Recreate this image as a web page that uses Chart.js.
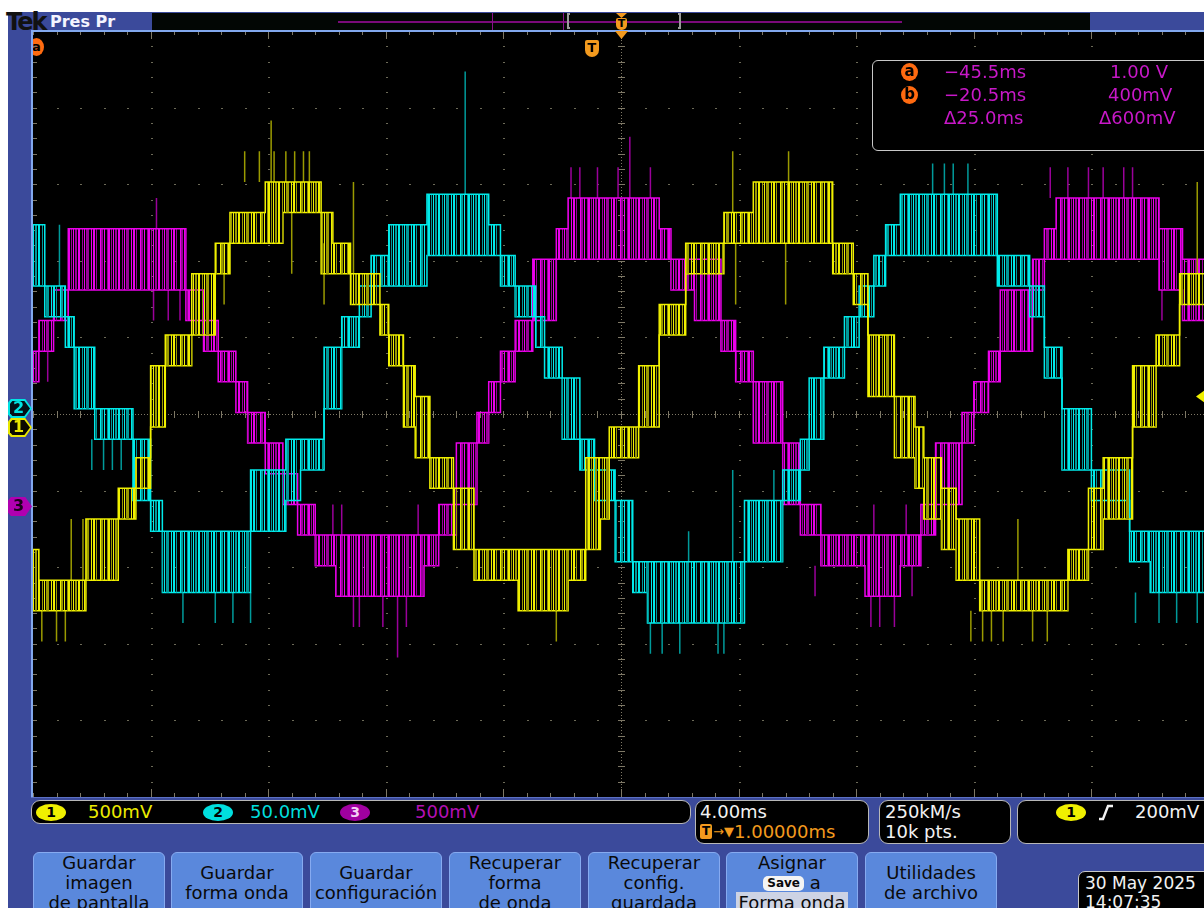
<!DOCTYPE html>
<html>
<head>
<meta charset="utf-8">
<script src="https://cdn.jsdelivr.net/npm/chart.js@4.4.1/dist/chart.umd.min.js"></script>
<style>
html, body { margin: 0; padding: 0; background: #fff; overflow: hidden; width: 1204px; height: 908px; }
body { position: relative; font-family: "DejaVu Sans", "Liberation Sans", sans-serif; }
.abs { position: absolute; }
.box { position: absolute; background: #000; border: 1px solid #b8b8b8; border-radius: 9px; box-sizing: border-box; }
.txt { position: absolute; white-space: nowrap; font-size: 18px; line-height: 20px; }
.oval { position: absolute; border-radius: 50%; font-weight: bold; font-size: 14px; line-height: 17px; text-align: center; color: #000; }
.btn { position: absolute; top: 852px; width: 132px; height: 70px; background: #5a88dc; border: 1px solid #86aaf0; border-radius: 6px; box-sizing: border-box; text-align: center; font-size: 18px; line-height: 20px; color: #0a0a0a; }
.mark { position: absolute; clip-path: polygon(0 18%, 12% 0, 72% 0, 100% 50%, 72% 100%, 12% 100%, 0 82%); }
.orng { position: absolute; background: #ff6a10; border-radius: 50%; color: #000; font-weight: bold; text-align: center; }
</style>
</head>
<body>
<div class="abs" style="left:8px;top:12px;width:1196px;height:896px;background:#3b4a9b"></div>

<!-- top status bar -->
<div class="abs" style="left:152px;top:13px;width:938px;height:17px;background:#020604"></div>
<div class="abs" style="left:338px;top:21px;width:564px;height:2px;background:#7a0a7a"></div>
<div class="abs" style="left:492px;top:13px;width:1px;height:17px;background:#8a108a"></div>
<div class="abs" style="left:563px;top:13px;width:1px;height:17px;background:#8a108a"></div>
<div class="abs" style="left:567px;top:13px;width:3px;height:16px;border:2px solid #9a9a9a;border-right:none;box-sizing:border-box"></div>
<div class="abs" style="left:678px;top:13px;width:3px;height:16px;border:2px solid #9a9a9a;border-left:none;box-sizing:border-box"></div>
<div class="abs" style="left:616px;top:13px;width:11px;height:5px;background:#f39a1e;clip-path:polygon(0 0,100% 0,50% 100%)"></div>
<div class="abs" style="left:616px;top:18px;width:11px;height:12px;background:#f39a1e;border-radius:2px 2px 5px 5px;font:bold 11px 'DejaVu Sans';line-height:12px;text-align:center;color:#000">T</div>
<div class="txt" style="left:6px;top:11px;font-size:24px;line-height:22px;font-weight:bold;color:#111;letter-spacing:-2px">Tek</div>
<div class="txt" style="left:50px;top:12px;font-size:16px;line-height:19px;color:#f4f4ff;font-weight:bold">Pres Pr</div>

<!-- plot -->
<div class="abs" style="left:33px;top:31px;width:1171px;height:766px;background:#000"></div>
<div class="orng" style="left:29px;top:38px;width:15px;height:18px;font-size:13px;line-height:18px">a</div>
<canvas id="scope" class="abs" style="left:33px;top:31px" width="1176" height="766"></canvas>
<div class="abs" style="left:8px;top:31px;width:23px;height:766px;background:#3b4a9b"></div>
<div class="abs" style="left:31px;top:30px;width:1173px;height:2px;background:#82a8ee"></div>
<div class="abs" style="left:31px;top:30px;width:2px;height:768px;background:#82a8ee"></div>
<div class="abs" style="left:31px;top:797px;width:1173px;height:1px;background:#5b70c4"></div>
<div class="abs" style="left:615px;top:31px;width:13px;height:8px;background:#f39a1e;clip-path:polygon(0 0,100% 0,50% 100%)"></div>
<div class="abs" style="left:585px;top:40px;width:14px;height:17px;background:#f39a1e;border-radius:2px 2px 7px 7px;font:bold 13px 'DejaVu Sans';line-height:16px;text-align:center;color:#000">T</div>
<div class="abs" style="left:1196px;top:390px;width:9px;height:13px;background:#f0f000;clip-path:polygon(0 50%,100% 0,100% 100%)"></div>

<!-- channel markers -->
<div class="mark" style="left:8px;top:399px;width:24px;height:19px;background:#00e4e4"></div>
<div class="mark" style="left:10px;top:401px;width:20px;height:15px;background:#041018"></div>
<div class="txt" style="left:13px;top:398px;font-size:16px;font-weight:bold;color:#00e4e4">2</div>
<div class="mark" style="left:8px;top:418px;width:24px;height:19px;background:#e8e800"></div>
<div class="mark" style="left:10px;top:420px;width:20px;height:15px;background:#0a0a00"></div>
<div class="txt" style="left:13px;top:417px;font-size:16px;font-weight:bold;color:#e8e800">1</div>
<div class="mark" style="left:8px;top:497px;width:24px;height:19px;background:#b000b0"></div>
<div class="txt" style="left:13px;top:496px;font-size:16px;font-weight:bold;color:#1a001a">3</div>

<!-- cursor readout -->
<div class="box" style="left:872px;top:60px;width:345px;height:91px;border-radius:6px;border-color:#c8c8c8"></div>
<div class="orng" style="left:901px;top:63px;width:17px;height:18px;font-size:15px;line-height:17px">a</div>
<div class="orng" style="left:901px;top:86px;width:17px;height:18px;font-size:15px;line-height:17px">b</div>
<div class="txt" style="left:944px;top:62px;color:#c818c8">&minus;45.5ms</div>
<div class="txt" style="left:944px;top:85px;color:#c818c8">&minus;20.5ms</div>
<div class="txt" style="left:944px;top:108px;color:#c818c8">&Delta;25.0ms</div>
<div class="txt" style="left:1110px;top:62px;color:#c818c8">1.00 V</div>
<div class="txt" style="left:1108px;top:85px;color:#c818c8">400mV</div>
<div class="txt" style="left:1099px;top:108px;color:#c818c8">&Delta;600mV</div>

<!-- channel scale readouts -->
<div class="box" style="left:31px;top:800px;width:660px;height:24px"></div>
<div class="oval" style="left:36px;top:804px;width:30px;height:17px;background:#f0f000">1</div>
<div class="txt" style="left:88px;top:802px;color:#ecec00">500mV</div>
<div class="oval" style="left:203px;top:804px;width:30px;height:17px;background:#00dede">2</div>
<div class="txt" style="left:250px;top:802px;color:#00dede">50.0mV</div>
<div class="oval" style="left:340px;top:804px;width:30px;height:17px;background:#a000a0;color:#f4d0f4">3</div>
<div class="txt" style="left:415px;top:802px;color:#b410b4">500mV</div>

<div class="box" style="left:695px;top:800px;width:174px;height:44px"></div>
<div class="txt" style="left:700px;top:802px;color:#f2f2f2">4.00ms</div>
<div class="abs" style="left:700px;top:824px;width:12px;height:15px;background:#f39a1e;border-radius:2px;font:bold 12px 'DejaVu Sans';line-height:15px;text-align:center;color:#000">T</div>
<div class="txt" style="left:713px;top:822px;font-size:13px;color:#f39a1e">&rarr;&#9660;</div>
<div class="txt" style="left:734px;top:822px;color:#f39a1e">1.00000ms</div>

<div class="box" style="left:879px;top:800px;width:132px;height:44px"></div>
<div class="txt" style="left:885px;top:802px;color:#f2f2f2">250kM/s</div>
<div class="txt" style="left:885px;top:822px;color:#f2f2f2">10k pts.</div>

<div class="box" style="left:1017px;top:800px;width:200px;height:44px"></div>
<div class="oval" style="left:1056px;top:804px;width:30px;height:17px;background:#f0f000">1</div>
<svg class="abs" style="left:1098px;top:804px" width="16" height="17"><path d="M1 15 H5 L10 2 H15" stroke="#f2f2f2" stroke-width="2.4" fill="none"/></svg>
<div class="txt" style="left:1135px;top:802px;color:#f2f2f2">200mV</div>

<!-- soft buttons -->
<div class="btn" style="left:33px">Guardar<br>imagen<br>de pantalla</div>
<div class="btn" style="left:171px;padding-top:10px">Guardar<br>forma onda</div>
<div class="btn" style="left:310px;padding-top:10px">Guardar<br>configuración</div>
<div class="btn" style="left:449px">Recuperar<br>forma<br>de onda</div>
<div class="btn" style="left:588px">Recuperar<br>config.<br>guardada</div>
<div class="btn" style="left:726px">Asignar<br><span style="display:inline-block;background:#f4f4f4;border-radius:5px;font:bold 12px 'DejaVu Sans';line-height:15px;padding:0 4px;vertical-align:2px">Save</span> a<br><span style="background:#cdd3e4;padding:0 3px">Forma onda</span></div>
<div class="btn" style="left:865px;padding-top:10px">Utilidades<br>de archivo</div>

<div class="box" style="left:1078px;top:871px;width:140px;height:44px;border-radius:7px;border-color:#c8c8c8"></div>
<div class="txt" style="left:1085px;top:873px;font-size:17px;color:#f2f2f2">30 May 2025</div>
<div class="txt" style="left:1085px;top:892px;font-size:17px;color:#f2f2f2">14:07:35</div>

<script>
// time in ms (4 ms/div), vertical in divisions, waveform levels are inverter steps
const LEVEL = 0.4;

// channel 1 (yellow): step start times and the two levels it switches between
const yellowTimes = [-20.0, -19.8, -18.2, -17.1, -16.5, -16.0, -15.5, -14.6, -13.8, -13.3, -12.1, -11.5, -10.2, -9.8, -9.2, -8.2, -7.9, -7.4, -7.0, -6.5, -5.7, -5.0, -3.5, -1.8, -1.2, -0.7, -0.4, 0.6, 1.3, 2.2, 3.5, 4.5, 7.2, 7.9, 8.4, 9.3, 10.0, 10.3, 10.9, 11.4, 12.2, 15.2, 15.9, 16.4, 17.4, 18.2, 19.0, 20.0];
const yellowHigh = [2, 1, 3, 4, 5, 8, 9, 11, 12, 13, 14, 14, 13, 12, 11, 10, 9, 8, 7, 5, 4, 2, 2, 2, 5, 5, 6, 8, 10, 12, 13, 14, 12, 11, 9, 7, 6, 5, 4, 3, 1, 2, 4, 5, 8, 9, 11, 11];
const yellowLow = [0, 0, 1, 3, 4, 6, 8, 9, 11, 12, 12, 13, 11, 11, 10, 9, 8, 6, 5, 4, 2, 1, 0, 1, 2, 3, 5, 6, 9, 11, 12, 12, 11, 10, 7, 5, 4, 3, 2, 1, 0, 1, 2, 3, 6, 8, 10, 10];
const yellowSpikeTimes = [-12.8, -12.3, -11.9, -11.8, -11.4, -11.1, -10.8, -10.6, -13.5, -10.1, -11.2, -19.7, -19.2, -18.9, -18.7, -18.3, -9.1, -2.2, 3.8, 5.7, 5.6, 3.9, 11.9, 12.3, 12.6, 13.0, 14.0, 14.5, 13.5, 19.6];
const yellowSpikeFrom = [14, 14, 14, 14, 14, 14, 14, 14, 12, 12, 13, 0, 0, 0, 1, 1, 11, 0, 13, 14, 12, 12, 0, 0, 0, 0, 0, 0, 1, 11];
const yellowSpikeTo = [15, 15, 16, 15, 15, 15, 15, 15, 10, 10, 11, -1, -1, -1, 3, 3, 14, -1, 15, 15, 10, 10, -1, -1, -1, -1, -1, -1, 3, 14];

// channel 2 (cyan)
const cyanTimes = [-20.0, -19.6, -18.9, -18.6, -17.9, -16.6, -16.0, -15.6, -12.6, -11.4, -10.9, -10.1, -9.5, -8.9, -8.5, -7.9, -6.6, -4.5, -4.1, -3.6, -2.9, -2.6, -2.0, -1.4, -0.9, -0.2, 0.4, 0.9, 4.2, 5.5, 6.1, 6.4, 6.9, 7.6, 8.1, 8.6, 9.0, 9.5, 12.8, 13.9, 14.4, 15.0, 16.0, 17.3, 18.0, 20.0];
const cyanHigh = [13, 11, 10, 9, 7, 6, 4, 3, 5, 6, 6, 9, 10, 11, 12, 13, 14, 13, 12, 11, 10, 9, 8, 6, 5, 4, 2, 2, 4, 5, 6, 8, 9, 10, 11, 12, 13, 14, 12, 11, 9, 7, 5, 3, 3, 3];
const cyanLow = [11, 10, 9, 7, 6, 4, 3, 1, 3, 4, 5, 7, 9, 10, 11, 11, 12, 12, 11, 10, 9, 8, 6, 5, 4, 2, 1, 0, 2, 4, 5, 6, 8, 9, 10, 11, 12, 12, 11, 10, 8, 5, 4, 2, 1, 1];
const cyanSpikeTimes = [-5.3, -19.1, -18.0, -17.6, -17.3, -17.0, -14.9, -13.8, -13.2, -12.6, 1.0, 1.4, 2.0, 3.3, 3.5, 2.3, 3.8, 5.2, 7.1, 10.6, 11.0, 11.3, 11.8, 17.5, 18.3, 18.9, 19.6];
const cyanSpikeFrom = [14, 11, 6, 6, 6, 6, 1, 1, 1, 1, 0, 0, 0, 0, 0, 2, 2, 3, 8, 14, 14, 14, 14, 1, 1, 1, 1];
const cyanSpikeTo = [18, 13, 5, 5, 5, 5, 0, 0, 0, 0, -1, -1, -1, -1, -1, 3, 5, 5, 9, 15, 15, 15, 15, 0, 0, 0, 0];

// channel 3 (magenta)
const magentaTimes = [-20.0, -19.8, -19.3, -18.8, -14.8, -14.2, -13.7, -13.1, -12.7, -12.1, -11.5, -11.0, -10.4, -9.7, -6.7, -6.2, -5.6, -4.9, -4.5, -4.1, -3.6, -3.0, -2.2, -1.8, 1.3, 1.7, 2.5, 3.4, 3.9, 4.5, 5.5, 6.1, 6.8, 8.3, 9.5, 10.2, 10.7, 11.6, 12.0, 12.5, 12.9, 14.0, 14.4, 14.8, 18.3, 19.1, 20.0];
const magentaHigh = [8, 9, 10, 12, 10, 9, 8, 7, 6, 5, 4, 3, 2, 2, 2, 3, 5, 6, 7, 8, 9, 11, 12, 13, 12, 11, 11, 9, 8, 7, 5, 3, 2, 2, 2, 3, 5, 6, 7, 8, 10, 11, 12, 13, 12, 11, 11];
const magentaLow = [7, 8, 9, 10, 9, 8, 7, 6, 5, 4, 3, 2, 1, 0, 1, 2, 3, 5, 6, 7, 8, 9, 11, 11, 11, 10, 9, 8, 7, 5, 3, 2, 1, 0, 1, 2, 3, 5, 6, 7, 8, 10, 11, 11, 10, 9, 9];
const magentaSpikeTimes = [-15.8, -15.9, -15.4, -15.0, -19.5, -9.1, -8.9, -8.1, -7.3, -7.6, -9.8, -9.5, -6.9, -1.7, -1.4, -0.8, -0.1, 0.3, 1.0, 8.5, 8.8, 9.3, 6.6, 8.6, 9.7, 14.6, 15.2, 15.9, 16.4, 17.1, 17.4, 9.9, 18.4];
const magentaSpikeFrom = [12, 10, 10, 10, 8, 0, 0, 0, 0, 0, 2, 2, 2, 13, 13, 13, 13, 13, 13, 0, 0, 0, 1, 2, 2, 13, 13, 13, 13, 13, 13, 1, 10];
const magentaSpikeTo = [13, 9, 9, 9, 7, -1, -1, -1, -1, -2, 3, 3, 3, 14, 14, 14, 14, 15, 14, -1, -1, -1, 0, 3, 3, 14, 14, 14, 14, 14, 14, 0, 9];

// vertical position (divisions) of each channel's lowest inverter level
const channels = [
	{ times: yellowTimes, high: yellowHigh, low: yellowLow, spT: yellowSpikeTimes, spA: yellowSpikeFrom, spB: yellowSpikeTo, base: -2.57, bright: '#f0f000', dark: '#9a9a00' },
	{ times: cyanTimes, high: cyanHigh, low: cyanLow, spT: cyanSpikeTimes, spA: cyanSpikeFrom, spB: cyanSpikeTo, base: -2.73, bright: '#00eaea', dark: '#009a9a' },
	{ times: magentaTimes, high: magentaHigh, low: magentaLow, spT: magentaSpikeTimes, spA: magentaSpikeFrom, spB: magentaSpikeTo, base: -2.38, bright: '#ea00ea', dark: '#9a009a' },
];

// PWM switching look: uneven vertical stripes of bright/dark trace
const bandPattern = (ctx, bright, dark) => {
	let cols = 'b.dd.bb..d.b.ddd..b.bb.d...bdd.b..dbb.d.';
	let c = document.createElement('canvas');
	c.width = cols.length;
	c.height = 2;
	let g = c.getContext('2d');
	cols.split('').forEach((ch, i) => {
		if (ch === '.') { return; }
		g.fillStyle = ch === 'b' ? bright : dark;
		g.fillRect(i, 0, 1, 2);
	});
	return ctx.createPattern(c, 'repeat');
};

// oscilloscope graticule drawn from the chart's own scales
const scopeGrid = {
	id: 'scopeGrid',
	beforeDatasetsDraw (chart) {
		let { ctx, chartArea: a, scales: { x, y } } = chart;
		let xs = [];
		let ys = [];
		for (let i = -25; i <= 25; i++) { xs.push(Math.round(x.getPixelForValue(i * 0.8))); }
		for (let j = -25; j <= 25; j++) { ys.push(Math.round(y.getPixelForValue(j * 0.2))); }
		ctx.save();
		ctx.fillStyle = '#6c6a58';
		for (let i = -4; i <= 4; i++) {
			if (i === 0) { continue; }
			let px = Math.round(x.getPixelForValue(i * 4));
			ys.forEach((py) => ctx.fillRect(px, py, 2, 1));
		}
		for (let j = -4; j <= 4; j++) {
			if (j === 0) { continue; }
			let py = Math.round(y.getPixelForValue(j));
			xs.forEach((px) => ctx.fillRect(px, py, 2, 1));
		}
		let cx = Math.round(x.getPixelForValue(0));
		let cy = Math.round(y.getPixelForValue(0));
		ctx.fillStyle = '#7e7866';
		for (let px = a.left; px < a.right; px += 3) { ctx.fillRect(px, cy, 1, 1); }
		for (let py = a.top; py < a.bottom; py += 3) { ctx.fillRect(cx, py, 1, 1); }
		xs.forEach((px) => ctx.fillRect(px, cy - 3, 1, 7));
		ys.forEach((py) => ctx.fillRect(cx - 3, py, 7, 1));
		xs.forEach((px) => { ctx.fillRect(px, a.top, 1, 4); ctx.fillRect(px, a.bottom - 4, 1, 4); });
		ys.forEach((py) => { ctx.fillRect(a.left, py, 4, 1); ctx.fillRect(a.right - 4, py, 4, 1); });
		for (let i = -4; i <= 4; i++) {
			let px = Math.round(x.getPixelForValue(i * 4));
			ctx.fillRect(px, a.top, 1, 8);
			ctx.fillRect(px, a.bottom - 8, 1, 8);
		}
		ctx.restore();
	},
};

let canvas = document.getElementById('scope');
let ctx2d = canvas.getContext('2d');
let datasets = [];

channels.forEach((ch) => {
	let lv = (n) => ch.base + n * LEVEL;
	datasets.push({
		data: ch.times.map((t, i) => ({ x: t, y: lv(ch.high[i]) })),
		borderColor: ch.bright,
		borderWidth: 1.5,
		stepped: true,
		fill: '+1',
		backgroundColor: bandPattern(ctx2d, ch.bright, ch.dark),
	});
	datasets.push({
		data: ch.times.map((t, i) => ({ x: t, y: lv(ch.low[i]) })),
		borderColor: ch.bright,
		borderWidth: 1.5,
		stepped: true,
		fill: false,
	});
	datasets.push({
		data: ch.spT.flatMap((t, i) => [{ x: t, y: lv(ch.spA[i]) }, { x: t, y: lv(ch.spB[i]) }, { x: t, y: null }]),
		borderColor: ch.dark,
		borderWidth: 1.5,
		fill: false,
		spanGaps: false,
	});
});

new Chart(canvas, {
	type: 'line',
	data: { datasets },
	options: {
		responsive: false,
		animation: false,
		events: [],
		layout: { padding: 0 },
		elements: { point: { radius: 0 }, line: { tension: 0 } },
		plugins: { legend: { display: false }, tooltip: { enabled: false } },
		scales: {
			x: { type: 'linear', min: -20, max: 20, display: false, offset: false },
			y: { type: 'linear', min: -5, max: 5, display: false },
		},
	},
	plugins: [scopeGrid],
});
</script>
</body>
</html>
